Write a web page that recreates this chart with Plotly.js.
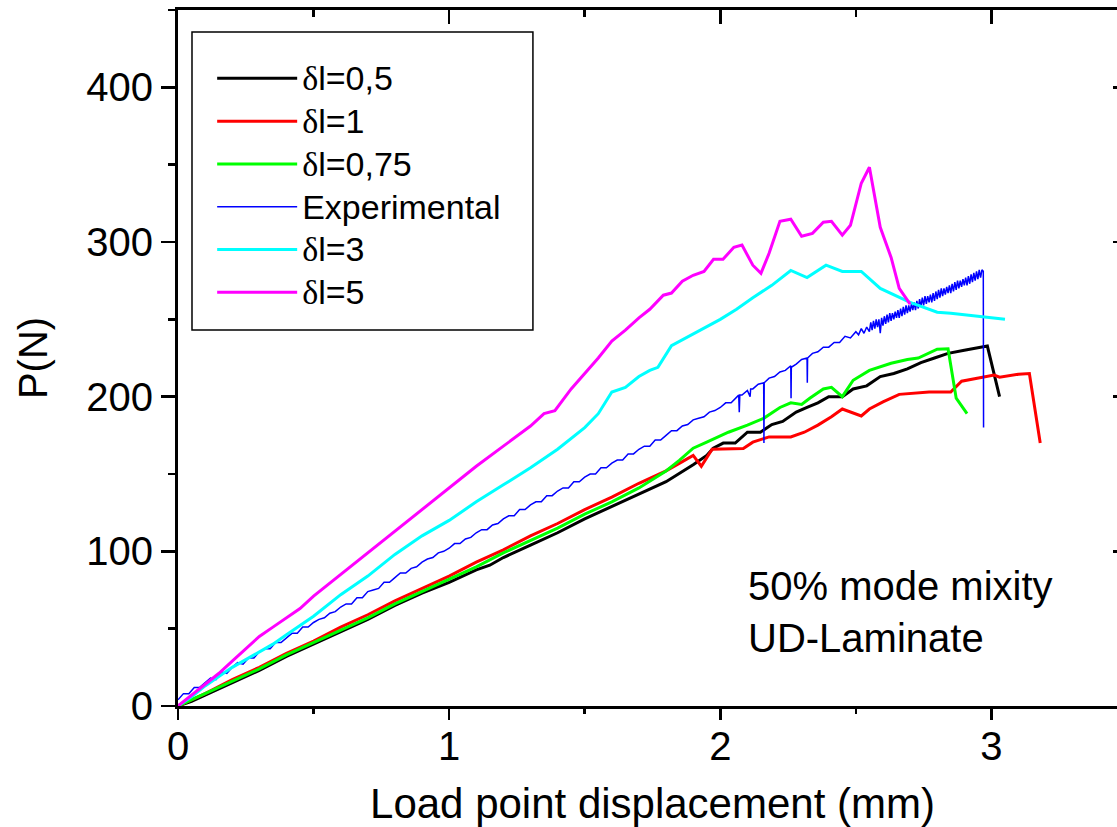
<!DOCTYPE html>
<html>
<head>
<meta charset="utf-8">
<script src="https://cdn.plot.ly/plotly-3.0.1.min.js"></script>
<style>
html, body { margin: 0; padding: 0; overflow: hidden; background: #fff; }
#chart { width: 1127px; height: 827px; }
</style>
</head>
<body>
<div id="chart"></div>
<script>
// ---- data ----
const seriesNames = ["δl=0,5", "δl=1", "δl=0,75", "Experimental", "δl=3", "δl=5"];

const black05X = [0, 0.05, 0.1, 0.2, 0.3, 0.4, 0.5, 0.6, 0.7, 0.8, 0.9, 1.0, 1.1, 1.15, 1.2, 1.3, 1.4, 1.5, 1.6, 1.7, 1.8, 1.9, 1.95, 1.974, 2.011, 2.055, 2.10, 2.148, 2.19, 2.23, 2.28, 2.32, 2.36, 2.40, 2.45, 2.49, 2.54, 2.59, 2.64, 2.69, 2.74, 2.79, 2.84, 2.90, 2.985, 3.03];
const black05Y = [0, 3, 7, 15, 23, 32, 40, 48, 56, 65, 73, 80, 88, 91, 96, 104, 112, 121, 129, 137, 145, 156, 162, 166.7, 170, 170, 177, 177, 182, 184, 190, 193, 196, 200, 200, 205, 207, 213, 215, 218, 222, 225, 228, 230, 232.7, 200];

const red1X = [0, 0.05, 0.1, 0.2, 0.3, 0.4, 0.5, 0.6, 0.7, 0.8, 0.9, 1.0, 1.1, 1.2, 1.3, 1.4, 1.5, 1.6, 1.7, 1.8, 1.86, 1.90, 1.93, 1.97, 2.085, 2.12, 2.18, 2.26, 2.31, 2.36, 2.41, 2.45, 2.52, 2.55, 2.60, 2.66, 2.77, 2.85, 2.89, 2.96, 3.01, 3.03, 3.10, 3.14, 3.18];
const red1Y = [0, 4, 8, 17, 25, 34, 42, 51, 59, 68, 76, 84, 93, 101, 110, 118, 127, 135, 144, 152, 158, 162, 155, 166, 166.5, 170.6, 174, 174, 177, 181.6, 187, 192, 187.5, 192, 196.6, 201.5, 203, 203, 210, 212.6, 214, 212.6, 214.5, 215, 170];

const green075X = [0, 0.05, 0.1, 0.2, 0.3, 0.4, 0.5, 0.6, 0.7, 0.8, 0.9, 1.0, 1.1, 1.2, 1.3, 1.4, 1.5, 1.6, 1.7, 1.8, 1.85, 1.90, 1.95, 2.03, 2.10, 2.16, 2.22, 2.26, 2.30, 2.33, 2.38, 2.41, 2.45, 2.49, 2.55, 2.63, 2.69, 2.73, 2.80, 2.84, 2.87, 2.91];
const green075Y = [0, 4, 8, 16, 24, 33, 41, 49, 57, 66, 74, 82, 90, 99, 107, 115, 124, 132, 141, 152, 159, 166.7, 170.6, 177, 181.6, 186, 193, 196, 195, 199, 205, 206, 200, 210.6, 217, 221.6, 224, 225, 230.7, 231, 199, 189];

// experimental curve, main part (including the downward spikes)
const expX = [0, 0.02, 0.04, 0.06, 0.08, 0.10, 0.12, 0.14, 0.16, 0.18, 0.20, 0.22, 0.24, 0.26, 0.28, 0.30, 0.32, 0.34, 0.36, 0.38, 0.40, 0.42, 0.44, 0.46, 0.48, 0.50, 0.52, 0.54, 0.56, 0.58, 0.60, 0.62, 0.64, 0.66, 0.68, 0.70, 0.72, 0.74, 0.76, 0.78, 0.80, 0.82, 0.84, 0.86, 0.88, 0.90, 0.92, 0.94, 0.96, 0.98, 1.00, 1.02, 1.04, 1.06, 1.08, 1.10, 1.12, 1.14, 1.16, 1.18, 1.20, 1.22, 1.24, 1.26, 1.28, 1.30, 1.32, 1.34, 1.36, 1.38, 1.40, 1.42, 1.44, 1.46, 1.48, 1.50, 1.52, 1.54, 1.56, 1.58, 1.60, 1.62, 1.64, 1.66, 1.68, 1.70, 1.72, 1.74, 1.76, 1.78, 1.80, 1.82, 1.84, 1.86, 1.88, 1.90, 1.92, 1.94, 1.96, 1.98, 2.00, 2.02, 2.04, 2.06, 2.068, 2.07, 2.072, 2.08, 2.10, 2.11, 2.112, 2.12, 2.14, 2.16, 2.161, 2.162, 2.18, 2.20, 2.22, 2.24, 2.26, 2.261, 2.262, 2.28, 2.30, 2.32, 2.321, 2.322, 2.34, 2.36, 2.38, 2.40, 2.42, 2.44, 2.46, 2.48, 2.50, 2.51, 2.52, 2.53, 2.54];
const expY = [4, 8, 8, 12, 12, 15, 18, 17, 22, 21, 25, 28, 27, 31, 31, 35, 37, 37, 41, 41, 44, 47, 47, 51, 51, 54, 56, 57, 60, 61, 64, 66, 66, 70, 70, 74, 75, 76, 80, 80, 83, 86, 86, 89, 90, 93, 95, 96, 99, 100, 102, 105, 105, 108, 109, 112, 114, 114, 117, 118, 121, 123, 123, 127, 127, 130, 132, 132, 136, 136, 139, 141, 141, 145, 145, 148, 150, 150, 154, 154, 157, 159, 159, 163, 163, 166, 168, 168, 172, 172, 175, 178, 178, 181, 182, 185, 186, 187, 190, 191, 193, 196, 196, 200, 201, 190, 201, 201, 204, 200, 205, 205, 208, 209, 170, 209, 212, 213, 216, 217, 220, 199, 219, 221, 224, 225, 209, 225, 228, 229, 232, 232, 235, 235, 239, 238, 242, 240, 244, 241, 245];
// experimental curve, noisy last part and final load drop
const expTailX = [2.550, 2.555, 2.560, 2.565, 2.570, 2.575, 2.580, 2.585, 2.590, 2.595, 2.600, 2.605, 2.610, 2.615, 2.620, 2.625, 2.630, 2.635, 2.640, 2.645, 2.650, 2.655, 2.660, 2.665, 2.670, 2.675, 2.680, 2.685, 2.690, 2.695, 2.700, 2.705, 2.710, 2.715, 2.720, 2.725, 2.730, 2.735, 2.740, 2.745, 2.750, 2.755, 2.760, 2.765, 2.770, 2.775, 2.780, 2.785, 2.790, 2.795, 2.800, 2.805, 2.810, 2.815, 2.820, 2.825, 2.830, 2.835, 2.840, 2.845, 2.850, 2.855, 2.860, 2.865, 2.870, 2.875, 2.880, 2.885, 2.890, 2.895, 2.900, 2.905, 2.910, 2.915, 2.920, 2.925, 2.930, 2.935, 2.940, 2.945, 2.950, 2.955, 2.960, 2.965, 2.970, 2.971];
const expTailY = [242, 248, 243, 249, 244, 250, 245, 250, 241, 251, 246, 252, 247, 253, 248, 254, 249, 254, 250, 255, 251, 256, 251, 257, 252, 258, 253, 259, 254, 259, 255, 260, 256, 261, 256, 262, 257, 263, 258, 264, 259, 265, 260, 265, 261, 266, 261, 267, 262, 268, 263, 269, 264, 270, 265, 270, 266, 271, 267, 272, 267, 273, 268, 274, 269, 275, 270, 275, 271, 276, 272, 277, 272, 278, 273, 279, 274, 280, 275, 281, 276, 282, 277, 282, 281, 180];

const cyan3X = [0, 0.05, 0.1, 0.15, 0.2, 0.25, 0.3, 0.35, 0.4, 0.5, 0.6, 0.7, 0.8, 0.9, 1.0, 1.1, 1.2, 1.3, 1.4, 1.5, 1.55, 1.6, 1.65, 1.7, 1.74, 1.77, 1.82, 1.915, 2.0, 2.06, 2.12, 2.19, 2.26, 2.32, 2.39, 2.45, 2.52, 2.59, 2.70, 2.80, 2.85, 3.05];
const cyan3Y = [0, 6, 13, 19, 25, 30, 35, 40, 46, 58, 72, 84, 98, 110, 120, 132, 143, 154, 166, 180, 189, 203, 206, 213, 217, 219, 233, 241.7, 250, 256.5, 264, 272, 281.6, 277, 285, 281, 281, 270, 261, 254.6, 254, 250];

const magenta5X = [0, 0.05, 0.1, 0.15, 0.2, 0.25, 0.3, 0.35, 0.4, 0.45, 0.5, 0.6, 0.7, 0.8, 0.9, 1.0, 1.1, 1.2, 1.3, 1.35, 1.39, 1.45, 1.5, 1.55, 1.6, 1.65, 1.7, 1.74, 1.79, 1.82, 1.86, 1.90, 1.94, 1.975, 2.01, 2.05, 2.08, 2.12, 2.15, 2.18, 2.22, 2.26, 2.30, 2.34, 2.38, 2.41, 2.45, 2.48, 2.52, 2.55, 2.59, 2.63, 2.66, 2.70];
const magenta5Y = [0, 7, 14, 21, 29, 37, 45, 51, 57, 63, 71, 85, 99, 113, 127, 141, 155, 168, 181, 189, 191, 205, 215, 225, 236, 243, 251, 256.5, 265.6, 267, 274.6, 278.5, 281, 288.8, 288.8, 296.6, 298, 285, 279.8, 292.7, 313.4, 314.7, 303.7, 305.6, 312.8, 313.4, 304.4, 310.8, 338, 348.3, 309.5, 290, 270, 259.8];

const xTickVals = [0, 1, 2, 3];
const yTickVals = [0, 100, 200, 300, 400];
const annotationText = "50% mode mixity<br>UD-Laminate";
const xTitle = "Load point displacement (mm)";
const yTitle = "P(N)";

// ---- styling ----
const FONT = "Liberation Sans, Arial, sans-serif";
function legendName(n) {
  const withDelta = n.replace("δ", "<span style=\"font-family:'Liberation Serif', 'DejaVu Serif', serif\">δ</span>");
  return "<span style=\"font-size:34px\">" + withDelta + "</span>";
}

const traces = [
  {x: black05X, y: black05Y, color: "#000000", w: 3},
  {x: red1X, y: red1Y, color: "#ff0000", w: 3},
  {x: green075X, y: green075Y, color: "#00ff00", w: 3},
  {x: expX.concat(expTailX), y: expY.concat(expTailY), color: "#0000ff", w: 1.5},
  {x: cyan3X, y: cyan3Y, color: "#00ffff", w: 3},
  {x: magenta5X, y: magenta5Y, color: "#ff00ff", w: 3}
].map((t, i) => ({
  type: "scatter", mode: "lines", x: t.x, y: t.y,
  name: legendName(seriesNames[i]),
  line: {color: t.color, width: t.w},
  hoverinfo: "skip"
}));

// empty traces that carry the frame axes (top, right, and bottom tick marks)
traces.push({type: "scatter", mode: "lines", x: [], y: [], xaxis: "x2", yaxis: "y2", showlegend: false, hoverinfo: "skip"});
traces.push({type: "scatter", mode: "lines", x: [], y: [], xaxis: "x3", yaxis: "y", showlegend: false, hoverinfo: "skip"});

const X_RANGE = [0, 3.5];
const Y_RANGE = [0, 450];

const layout = {
  width: 1127, height: 827,
  margin: {l: 178, r: 0, t: 10, b: 121},
  paper_bgcolor: "#ffffff", plot_bgcolor: "#ffffff",
  font: {family: FONT, color: "#000", size: 40},
  showlegend: true,
  legend: {
    x: 0.036, y: 0.9397, xanchor: "left", yanchor: "top",
    bgcolor: "rgba(0,0,0,0)", borderwidth: 0,
    font: {family: FONT, size: 30.6, color: "#000"},
    itemwidth: 80, tracegroupgap: 0
  },
  xaxis: {
    range: X_RANGE, tickvals: xTickVals, ticks: "outside", ticklen: 3, tickwidth: 2.5, tickcolor: "#000",
    showline: true, linewidth: 3, linecolor: "#000", showgrid: false, zeroline: false,
    tickfont: {family: FONT, size: 40, color: "#000"},
    title: {text: xTitle, font: {family: FONT, size: 42, color: "#000"}, standoff: 34}
  },
  xaxis3: {
    overlaying: "x", side: "bottom", anchor: "y", range: X_RANGE, tickvals: xTickVals,
    ticks: "outside", ticklen: 13, tickwidth: 2.5, tickcolor: "#000",
    minor: {dtick: 0.5, tick0: 0, ticks: "outside", ticklen: 7, tickwidth: 2.5, tickcolor: "#000", showgrid: false},
    showticklabels: false, showline: false, showgrid: false, zeroline: false
  },
  yaxis: {
    range: Y_RANGE, tickvals: yTickVals, ticks: "outside", ticklen: 14, tickwidth: 2.5, tickcolor: "#000",
    minor: {dtick: 50, tick0: 0, ticks: "outside", ticklen: 7, tickwidth: 2.5, tickcolor: "#000", showgrid: false},
    showline: true, linewidth: 3, linecolor: "#000", showgrid: false, zeroline: false,
    tickfont: {family: FONT, size: 40, color: "#000"},
    title: {text: yTitle, font: {family: FONT, size: 40, color: "#000"}, standoff: 27}
  },
  xaxis2: {
    overlaying: "x", side: "top", anchor: "y", range: X_RANGE, tickvals: xTickVals,
    ticks: "inside", ticklen: 14, tickwidth: 2.5, tickcolor: "#000",
    minor: {dtick: 0.5, tick0: 0, ticks: "inside", ticklen: 7, tickwidth: 2.5, tickcolor: "#000", showgrid: false},
    showticklabels: false, showline: true, linewidth: 3, linecolor: "#000", showgrid: false, zeroline: false
  },
  yaxis2: {
    overlaying: "y", side: "right", anchor: "x", range: Y_RANGE, tickvals: yTickVals,
    ticks: "inside", ticklen: 14, tickwidth: 2.5, tickcolor: "#000",
    showticklabels: false, showline: true, linewidth: 3, linecolor: "#000", showgrid: false, zeroline: false
  },
  shapes: [{
    type: "rect", xref: "paper", yref: "paper",
    x0: 0.01475, x1: 0.374, y0: 0.5402, y1: 0.9684,
    line: {color: "#000", width: 1.5}, fillcolor: "rgba(0,0,0,0)", layer: "above"
  }],
  annotations: [{
    text: annotationText, xref: "x", yref: "y", x: 2.096, y: 60.7,
    xanchor: "left", yanchor: "middle", align: "left", showarrow: false,
    font: {family: FONT, size: 40, color: "#000"}
  }]
};

Plotly.newPlot("chart", traces, layout, {displayModeBar: false, staticPlot: true});
</script>
</body>
</html>
